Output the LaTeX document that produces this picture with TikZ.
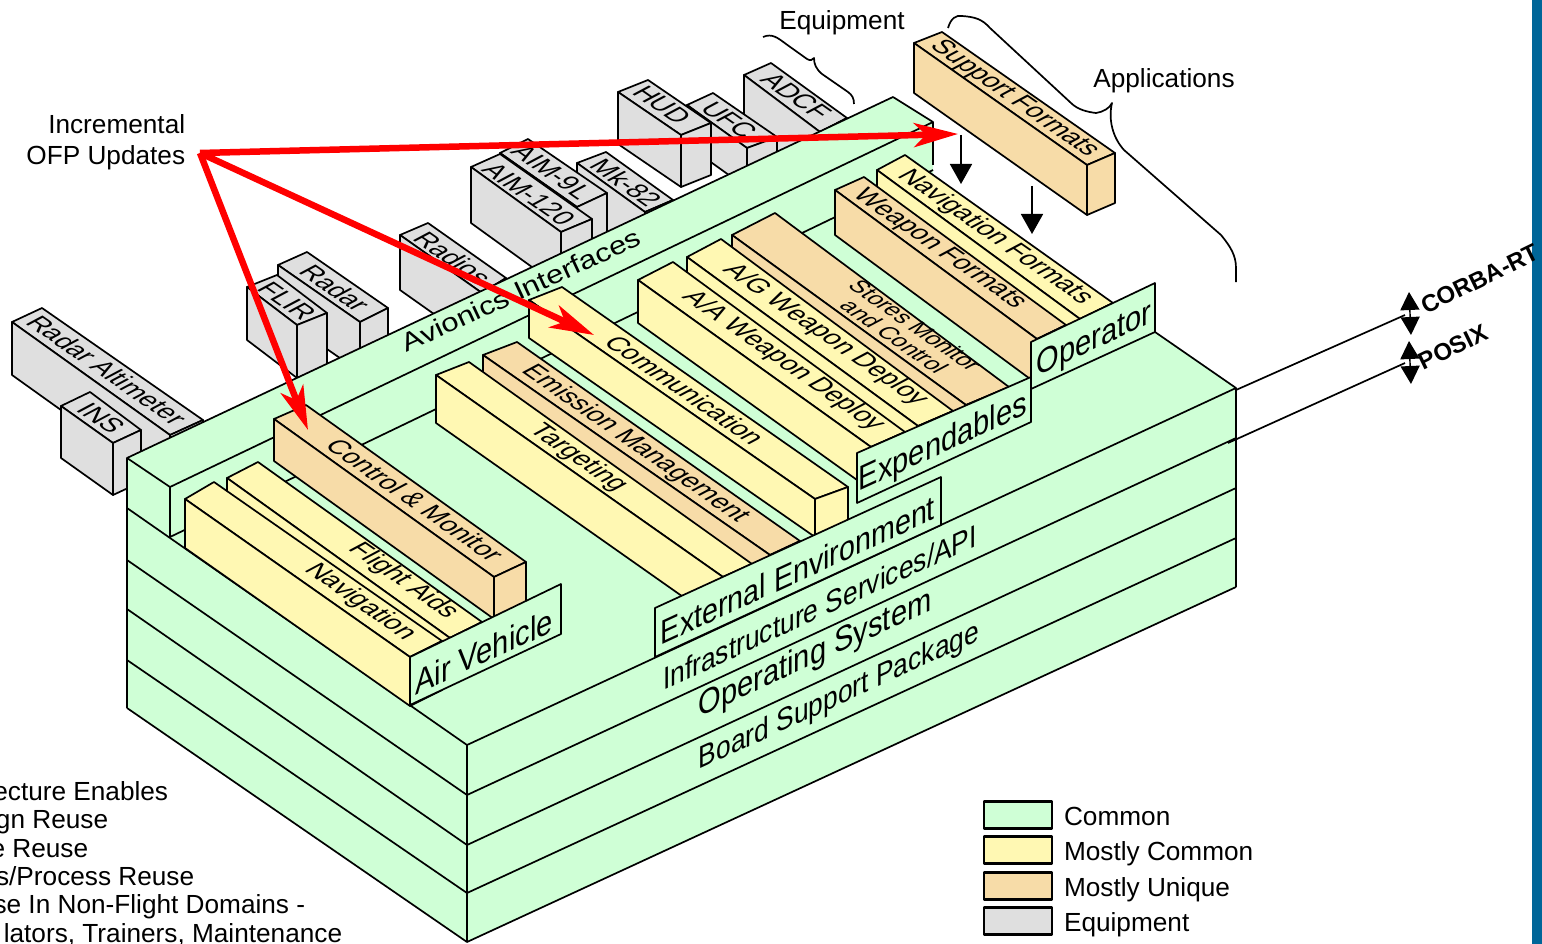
\documentclass[tikz,border=0pt]{standalone}
\usepackage{fontspec}
\setmainfont{Liberation Sans}
\usetikzlibrary{arrows.meta, positioning}
\definecolor{commongreen}{RGB}{207,255,214}
\definecolor{mostlyyellow}{RGB}{255,248,179}
\definecolor{uniqueorange}{RGB}{247,220,168}
\definecolor{equipgray}{RGB}{223,223,223}
\definecolor{sidebar}{RGB}{0,102,153}
\definecolor{updatered}{RGB}{255,0,0}
\newcommand{\slab}[7]{%
  \coordinate (#1a) at #3;
  \coordinate (#1b) at #4;
  \coordinate (#1c) at #5;
  \coordinate (#1d) at #6;
  \path (#1a) ++(0,#7) coordinate (#1e);
  \path (#1c) ++(0,#7) coordinate (#1f);
  \path (#1d) ++(0,#7) coordinate (#1g);
  \draw [fill=#2] (#1a) -- (#1b) -- (#1d) -- (#1c) -- cycle;
  \draw [fill=#2] (#1a) -- (#1c) -- (#1f) -- (#1e) -- cycle;
  \draw [fill=#2] (#1c) -- (#1d) -- (#1g) -- (#1f) -- cycle;
}
\begin{document}
\begin{tikzpicture} [x=1pt, y=-1pt, line width=1.7pt, line join=round,
    boxtext/.style = {cm={0.82,-0.57,0.92,0.49,(0,0)}, inner sep=0pt, align=center,
      font=\fontsize{#1}{#1}\selectfont},
    boxtext/.default = 26,
    paneltext/.style = {cm={0.91,0.42,0,1.08,(0,0)}, inner sep=0pt,
      font=\fontsize{#1}{#1}\selectfont},
    striptext/.style = {cm={0.91,0.42,-0.35,0.75,(0,0)}, inner sep=0pt,
      font=\fontsize{#1}{#1}\selectfont},
    plain/.style = {inner sep=0pt, text height=19pt, text depth=6pt, font=\fontsize{26.2}{31}\selectfont},
    tagtext/.style = {rotate=26, inner sep=0pt, font=\bfseries\fontsize{24}{26}\selectfont},
    legbox/.style = {draw, line width=2.4pt, minimum width=68pt, minimum height=27pt, inner sep=0pt},
    redarrow/.style = {-{Stealth[length=44pt, width=24pt, inset=12pt]}, updatered, line width=6.5pt},
    dropline/.style = {-{Triangle[length=20pt, width=22pt]}, line width=1.7pt},
    apiline/.style = {{Triangle[length=18pt, width=19pt]}-{Triangle[length=18pt, width=19pt]}, line width=1.4pt}]
    \useasboundingbox (0,0) rectangle (1542,944);
    \fill [sidebar] (1532,0) rectangle (1542,944);

    \slab{alt}{equipgray}{(12,322)}{(42,308)}{(170,435)}{(203,420)}{53}
    \node (alttext) [boxtext] at (107,370) {Radar Altimeter};
    \slab{ins}{equipgray}{(61,406)}{(90,392)}{(113,443)}{(141,430)}{52}
    \node (instext) [boxtext] at (101,418) {INS};
    \slab{radar}{equipgray}{(278,265)}{(307,252)}{(360,322)}{(388,308)}{50}
    \node (radartext) [boxtext] at (335,288) {Radar};
    \slab{flir}{equipgray}{(247,287)}{(277,275)}{(297,325)}{(327,313)}{53}
    \node (flirtext) [boxtext] at (287,301) {FLIR};
    \slab{radios}{equipgray}{(400,235)}{(428,223)}{(482,293)}{(506,278)}{55}
    \node (radiostext) [boxtext] at (453,258) {Radios};
    \slab{mk}{equipgray}{(577,163)}{(606,152)}{(645,212)}{(673,200)}{50}
    \node (mktext) [boxtext] at (626,183) {Mk-82};
    \slab{nine}{equipgray}{(500,153)}{(528,139)}{(577,207)}{(607,193)}{40}
    \node (ninetext) [boxtext] at (552,172) {AIM-9L};
    \slab{aim}{equipgray}{(471,167)}{(500,154)}{(561,232)}{(592,219)}{56}
    \node (aimtext) [boxtext] at (529,194) {AIM-120};
    \slab{adcf}{equipgray}{(744,75)}{(771,63)}{(820,132)}{(847,118)}{60}
    \node (adcftext) [boxtext] at (796,96) {ADCF};
    \slab{ufc}{equipgray}{(687,105)}{(713,93)}{(747,148)}{(777,137)}{40}
    \node (ufctext) [boxtext] at (729,120) {UFC};
    \slab{hud}{equipgray}{(618,92)}{(648,80)}{(681,135)}{(711,123)}{52}
    \node (hudtext) [boxtext] at (662,105) {HUD};

    \fill [commongreen] (127,458) -- (893,97) -- (933,122) -- (933,175) -- (1113,303)
      -- (1155,283) -- (1155,332) -- (1236,388) -- (1236,587) -- (467,942) -- (127,708) -- cycle;
    \draw (127,708) -- (127,458) -- (893,97) -- (933,122) -- (933,165);
    \draw (127,458) -- (170,487) -- (933,122);
    \draw (170,487) -- (170,537) -- (933,170);
    \draw (1155,332) -- (1236,388) -- (1236,587);
    \draw (127,508) -- (467,745) -- (1236,388);
    \draw (127,560) -- (467,795) -- (1236,438);
    \draw (127,609) -- (467,845) -- (1236,488);
    \draw (127,660) -- (467,893) -- (1236,538);
    \draw (127,708) -- (467,942) -- (1236,587);
    \draw (467,745) -- (467,942);

    \slab{flight}{mostlyyellow}{(227,478)}{(258,462)}{(450,638)}{(482,622)}{40}
    \slab{nav}{mostlyyellow}{(185,499)}{(214,482)}{(410,657)}{(442,641)}{49}
    \slab{ctrl}{uniqueorange}{(274,419)}{(306,405)}{(494,577)}{(526,562)}{42}
    \slab{emis}{uniqueorange}{(483,355)}{(517,342)}{(770,555)}{(800,541)}{40}
    \slab{targ}{mostlyyellow}{(436,375)}{(469,362)}{(723,577)}{(752,564)}{48}
    \slab{comm}{mostlyyellow}{(529,300)}{(562,287)}{(815,499)}{(848,487)}{38}
    \slab{stores}{uniqueorange}{(732,235)}{(775,213)}{(966,405)}{(1009,387)}{20}
    \slab{ag}{mostlyyellow}{(687,257)}{(721,239)}{(918,426)}{(953,411)}{40}
    \slab{aa}{mostlyyellow}{(638,280)}{(673,262)}{(871,447)}{(905,432)}{43}
    \slab{navf}{mostlyyellow}{(877,170)}{(905,155)}{(1080,319)}{(1113,303)}{40}
    \slab{weap}{uniqueorange}{(835,190)}{(864,177)}{(1037,339)}{(1066,325)}{45}
    \node (navtext) [boxtext] at (360,602) {Navigation};
    \node (flighttext) [boxtext] at (403,581) {Flight Aids};
    \node (ctrltext) [boxtext] at (415,500) {Control \& Monitor};
    \node (targtext) [boxtext] at (578,458) {Targeting};
    \node (emistext) [boxtext] at (635,444) {Emission Management};
    \node (commtext) [boxtext] at (685,390) {Communication};
    \node (aatext) [boxtext] at (783,361) {A/A Weapon Deploy};
    \node (agtext) [boxtext] at (825,335) {A/G Weapon Deploy};
    \node (storestext) [boxtext=23] at (905,331) {Stores Monitor\\and Control};
    \node (weaptext) [boxtext] at (939,249) {Weapon Formats};
    \node (navftext) [boxtext] at (995,237) {Navigation Formats};

    \draw [fill=commongreen] (410,657) -- (561,584) -- (561,634) -- (410,705) -- cycle;
    \draw [fill=commongreen] (655,608) -- (941,477) -- (941,525) -- (655,657) -- cycle;
    \draw [fill=commongreen] (857,453) -- (1031,377) -- (1031,422) -- (857,503) -- cycle;
    \draw [fill=commongreen] (1031,342) -- (1155,283) -- (1155,332) -- (1031,389) -- cycle;
    \node (airtext) [paneltext=32] at (484,651) {Air Vehicle};
    \node (exttext) [paneltext=31.5] at (798,570) {External Environment};
    \node (exptext) [paneltext=32] at (943,444) {Expendables};
    \node (optext) [paneltext=32] at (1094,341) {Operator};
    \node (infratext) [paneltext=29] at (820,607) {Infrastructure Services/API};
    \node (ostext) [paneltext=32] at (815,655) {Operating System};
    \node (bsptext) [paneltext=29] at (839,697) {Board Support Package};
    \node (avitext) [striptext=31] at (521,290) {Avionics Interfaces};

    \slab{supp}{uniqueorange}{(914,43)}{(942,32)}{(1087,165)}{(1115,153)}{50}
    \node (supptext) [boxtext] at (1014,99) {Support Formats};

    \draw (763,37) .. controls (772,33) and (778,38) .. (786,44) -- (807,59) .. controls (810,61) and (813,60) .. (814,58)
      .. controls (814,64) and (816,69) .. (822,74) -- (848,92) .. controls (852,95) and (854,98) .. (854,104);
    \draw (948,28) .. controls (951,18) and (956,15) .. (962,16) .. controls (975,17) and (982,19) .. (990,28)
      -- (1071,103) .. controls (1078,110) and (1088,112) .. (1096,113) .. controls (1103,112) and (1110,108) .. (1112,103)
      .. controls (1108,120) and (1113,138) .. (1124,150) -- (1221,235) .. controls (1230,246) and (1236,255) .. (1236,268) -- (1236,282);

    \coordinate (corbaend) at (1405,315);
    \coordinate (corbafrom) at (1236,390);
    \coordinate (posixend) at (1405,363);
    \coordinate (posixfrom) at (1228,443);
    \path (corbafrom) edge (corbaend);
    \path (posixfrom) edge (posixend);
    \coordinate (corbatop) at (1409,292);
    \coordinate (corbabot) at (1411,335);
    \coordinate (posixtop) at (1409,341);
    \coordinate (posixbot) at (1411,384);
    \path [apiline] (corbatop) edge (corbabot);
    \path [apiline] (posixtop) edge (posixbot);
    \node (corba) [tagtext] at (1480,279) {CORBA-RT};
    \node (posix) [tagtext] at (1453,347) {POSIX};

    \coordinate (drop1) at (961,135);
    \coordinate (navf1) at (961,184);
    \coordinate (drop2) at (1032,186);
    \coordinate (navf2) at (1032,234);
    \path [dropline] (drop1) edge (navf1);
    \path [dropline] (drop2) edge (navf2);

    \node (updates) [inner sep=0pt, font=\fontsize{26.2}{31}\selectfont, align=right, anchor=east] at (186,142) {Incremental\\OFP Updates};
    \coordinate (redfrom) at (200,153);
    \coordinate (redapp) at (958,134);
    \coordinate (redcomm) at (594,335);
    \coordinate (redctrl) at (308,430);
    \path [redarrow] (redfrom) edge (redapp);
    \path [redarrow] (redfrom) edge (redcomm);
    \path [redarrow] (redfrom) edge (redctrl);

    \node (equip) [plain] at (842,23.5) {Equipment};
    \node (apps) [plain] at (1164,81.5) {Applications};

    \node (ln1) [plain, anchor=east] at (169,793.5) {ecture Enables};
    \node (ln2) [plain, anchor=east] at (109,821.5) {gn Reuse};
    \node (ln3) [plain, anchor=east] at (89,851) {e Reuse};
    \node (ln4) [plain, anchor=east] at (195,879) {s/Process Reuse};
    \node (ln5) [plain, anchor=east] at (306,907) {se In Non-Flight Domains -};
    \node (ln6) [plain, anchor=east] at (343,936) {lators, Trainers, Maintenance};

    \node (legcommon) [legbox, fill=commongreen] at (1018,815) {};
    \node (legmostly) [legbox, fill=mostlyyellow] at (1018,850) {};
    \node (legunique) [legbox, fill=uniqueorange] at (1018,886) {};
    \node (legequip) [legbox, fill=equipgray] at (1018,921) {};
    \node (commontext) [plain, right = 10pt of legcommon, yshift=-4pt] {Common};
    \node (mostlytext) [plain, right = 10pt of legmostly, yshift=-4pt] {Mostly Common};
    \node (uniquetext) [plain, right = 10pt of legunique, yshift=-4pt] {Mostly Unique};
    \node (equiptext) [plain, right = 10pt of legequip, yshift=-4pt] {Equipment};
\end{tikzpicture}
\end{document}
